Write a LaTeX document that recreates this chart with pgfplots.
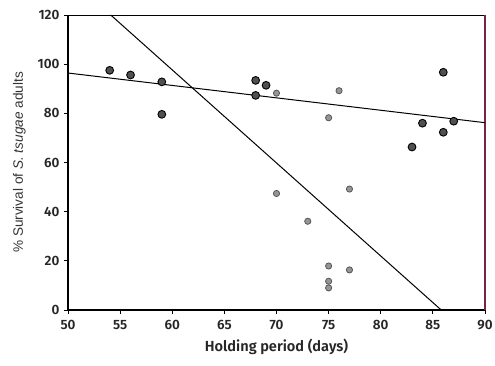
\documentclass[border=0pt]{standalone}
\usepackage{pgfplots}
\pgfplotsset{compat=1.18}
\usepackage{fontspec}
\setmainfont{Liberation Sans}
\newfontfamily\semib{Fira Sans}[UprightFont={* SemiBold}]
\definecolor{darkpt}{HTML}{505050}
\definecolor{greypt}{HTML}{959595}
\definecolor{greyedge}{HTML}{555555}
\definecolor{maroon}{HTML}{7A2445}
\begin{document}
\begin{tikzpicture}
\begin{axis}[
  scale only axis,
  width=417pt, height=295pt,
  xmin=50, xmax=90, ymin=0, ymax=120,
  xtick={50,55,...,90}, ytick={0,20,...,120},
  axis x line*=bottom, axis y line*=left,
  axis line style={line width=1.3pt, -},
  tick align=outside, major tick length=4pt,
  tick style={line width=0.8pt, black},
  /pgf/number format/assume math mode=true,
  ticklabel style={font=\semib\fontsize{13.5}{15}\selectfont, text=black!85},
  xticklabel style={yshift=-3pt},
  yticklabel style={xshift=-1pt},
  xlabel={{\semib Holding period (days)}},
  ylabel={\% Survival of \textit{S. tsugae} adults},
  label style={font=\fontsize{13.6}{15}\selectfont, text=black!80},
  xlabel style={yshift=-2pt, font=\fontsize{14.6}{16}\selectfont, text=black!85},
  ylabel style={yshift=5pt},
  clip=false,
]
\coordinate (ll) at (rel axis cs:0,0);
\coordinate (ur) at (rel axis cs:1,1);
\draw[line width=0.9pt] (rel axis cs:0,1) -- (rel axis cs:1,1);
\draw[line width=1.1pt, maroon] (rel axis cs:1,0) -- (rel axis cs:1,1);
% regression lines
\addplot[black, line width=1pt, no marks] coordinates {(50,96.4) (90,76.2)};
\addplot[black, line width=1pt, no marks] coordinates {(54.1,120) (85.8,0)};
% grey points
\addplot[only marks, mark=*, mark size=3.1pt, mark options={fill=greypt, draw=greyedge, line width=0.8pt}] coordinates {
(70,88.2) (76,89.2) (75,78.2) (70,47.4) (73,36.1) (77,49.2) (75,17.9) (75,11.7) (75,9) (77,16.3)
};
% dark points
\addplot[only marks, mark=*, mark size=3.9pt, mark options={fill=darkpt, draw=black, line width=0.9pt}] coordinates {
(54,97.5) (56,95.6) (59,92.8) (59,79.6) (68,93.4) (69,91.4) (68,87.3)
(86,96.7) (84,76) (86,72.3) (83,66.3) (87,76.8)
};
\end{axis}
\pgfresetboundingbox
\path[use as bounding box] ([shift={(-68pt,-55pt)}]ll) rectangle ([shift={(10pt,15pt)}]ur);
\end{tikzpicture}
\end{document}
